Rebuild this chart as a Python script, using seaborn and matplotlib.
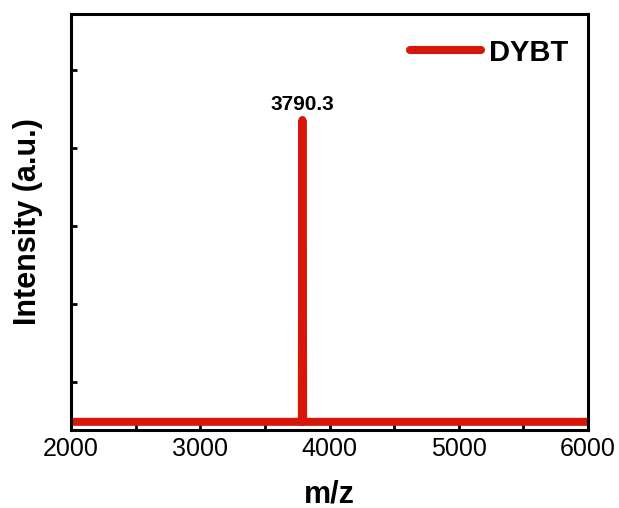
import matplotlib
matplotlib.use("Agg")
import matplotlib.pyplot as plt
import seaborn as sns
import pandas as pd
from matplotlib.ticker import MultipleLocator, NullFormatter

# data (m/z, intensity in arbitrary units)
mz = [2000, 3300, 3770, 3786, 3788, 3790.3, 3793, 3796, 3806, 4500, 6000]
intensity = [0.49, 0.49, 0.49, 0.49, 2.85, 4.36, 2.75, 0.49, 0.49, 0.49, 0.49]
series_name = "DYBT"
peak_label = "3790.3"
xticks = [2000, 3000, 4000, 5000, 6000]

sns.set_theme(style="ticks")
plt.rcParams['font.family'] = ['Liberation Sans', 'DejaVu Sans']
plt.rcParams.update({"text.color": "black", "axes.labelcolor": "black",
                     "xtick.color": "black", "ytick.color": "black"})

df = pd.DataFrame({"m/z": mz, "Intensity": intensity, "series": series_name})

fig = plt.figure(figsize=(6.19, 5.08), dpi=100)
ax = fig.add_axes([0.1147, 0.1535, 0.8353, 0.819])
red = "#D6170A"
lw = 5.8
sns.lineplot(data=df, x="m/z", y="Intensity", hue="series", palette=[red],
             ax=ax, linewidth=lw, estimator=None, sort=False)
for ln in ax.get_lines():
    ln.set_solid_capstyle("round")
    ln.set_solid_joinstyle("round")

ax.set_xlim(2000, 6000)
ax.set_ylim(0.385, 5.72)
ax.set_xticks(xticks)
ax.xaxis.set_minor_locator(MultipleLocator(500))
ax.yaxis.set_major_locator(MultipleLocator(1))
ax.yaxis.set_major_formatter(NullFormatter())
ax.tick_params(axis="both", which="both", direction="in", length=4, width=2, color="black")
ax.tick_params(axis="x", which="major", labelsize=18, pad=5, labelcolor="black")
for s in ax.spines.values():
    s.set_linewidth(2.2)
    s.set_color("black")

ax.set_xlabel("m/z", fontsize=22, fontweight="bold", labelpad=13, color="black")
ax.set_ylabel("Intensity (a.u.)", fontsize=22, fontweight="bold", labelpad=17, color="black")

ax.text(3790.3, 4.44, peak_label, ha="center", va="bottom", fontsize=15,
        fontweight="bold", color="black")

leg = ax.legend(loc="upper right", bbox_to_anchor=(0.961, 0.941), frameon=False,
                handlelength=2.45, handletextpad=0.25, borderaxespad=0, borderpad=0,
                prop={"size": 21, "weight": "bold"})
for t in leg.get_texts():
    t.set_color("black")
for h in leg.get_lines():
    h.set_linewidth(lw)
    h.set_solid_capstyle("round")

fig.savefig("out.png", dpi=100)
